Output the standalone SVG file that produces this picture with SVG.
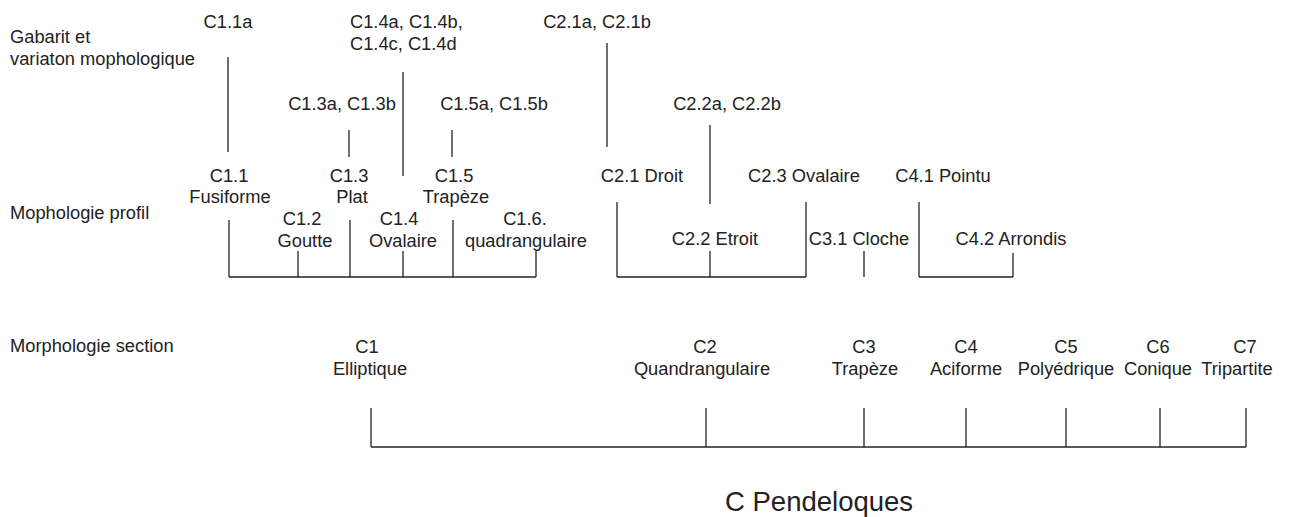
<svg xmlns="http://www.w3.org/2000/svg" width="1296" height="517" viewBox="0 0 1296 517">
<style>
text{font-family:"Liberation Sans",Arial,sans-serif;font-size:18.3px;fill:#222}
.m{text-anchor:middle}
.t{font-size:27.5px}
.c line{stroke:#222;stroke-width:1.3;fill:none}
</style>
<rect width="1296" height="517" fill="#fff"/>
<g id="row-labels">
<text x="10" y="43">Gabarit et</text>
<text x="10" y="65">variaton mophologique</text>
<text x="10" y="219">Mophologie profil</text>
<text x="10" y="352">Morphologie section</text>
</g>
<g id="n-C1.1a"><text class="m" x="228" y="28">C1.1a</text></g>
<g id="n-C1.4abcd"><text x="350" y="28">C1.4a, C1.4b,</text><text x="350" y="50">C1.4c, C1.4d</text></g>
<g id="n-C2.1ab"><text class="m" x="597" y="28">C2.1a, C2.1b</text></g>
<g id="n-C1.3ab"><text class="m" x="342" y="110">C1.3a, C1.3b</text></g>
<g id="n-C1.5ab"><text class="m" x="494" y="110">C1.5a, C1.5b</text></g>
<g id="n-C2.2ab"><text class="m" x="727" y="110">C2.2a, C2.2b</text></g>
<g id="n-C1.1"><text class="m" x="229" y="182">C1.1</text><text class="m" x="230" y="203">Fusiforme</text></g>
<g id="n-C1.3"><text class="m" x="349" y="182">C1.3</text><text class="m" x="352" y="203">Plat</text></g>
<g id="n-C1.5"><text class="m" x="454" y="182">C1.5</text><text class="m" x="456" y="203">Trapèze</text></g>
<g id="n-C1.2"><text class="m" x="302" y="225">C1.2</text><text class="m" x="305" y="247">Goutte</text></g>
<g id="n-C1.4"><text class="m" x="399" y="225">C1.4</text><text class="m" x="403" y="247">Ovalaire</text></g>
<g id="n-C1.6"><text class="m" x="525" y="225">C1.6.</text><text class="m" x="526" y="247">quadrangulaire</text></g>
<g id="n-C2.1"><text class="m" x="642" y="182">C2.1 Droit</text></g>
<g id="n-C2.3"><text class="m" x="804" y="182">C2.3 Ovalaire</text></g>
<g id="n-C4.1"><text class="m" x="943" y="182">C4.1 Pointu</text></g>
<g id="n-C2.2"><text class="m" x="715" y="245">C2.2 Etroit</text></g>
<g id="n-C3.1"><text class="m" x="859" y="245">C3.1 Cloche</text></g>
<g id="n-C4.2"><text class="m" x="1011" y="245">C4.2 Arrondis</text></g>
<g id="n-C1"><text class="m" x="367" y="353">C1</text><text class="m" x="370" y="375">Elliptique</text></g>
<g id="n-C2"><text class="m" x="705" y="353">C2</text><text class="m" x="702" y="375">Quandrangulaire</text></g>
<g id="n-C3"><text class="m" x="864" y="353">C3</text><text class="m" x="865" y="375">Trapèze</text></g>
<g id="n-C4"><text class="m" x="966" y="353">C4</text><text class="m" x="966" y="375">Aciforme</text></g>
<g id="n-C5"><text class="m" x="1066" y="353">C5</text><text class="m" x="1066" y="375">Polyédrique</text></g>
<g id="n-C6"><text class="m" x="1158" y="353">C6</text><text class="m" x="1158" y="375">Conique</text></g>
<g id="n-C7"><text class="m" x="1245" y="353">C7</text><text class="m" x="1237" y="375">Tripartite</text></g>
<g id="n-C"><text class="t" x="725" y="511">C Pendeloques</text></g>
<g id="connectors" class="c">
<line x1="228" y1="57" x2="228" y2="152"/>
<line x1="349" y1="130" x2="349" y2="157"/>
<line x1="403" y1="72" x2="403" y2="176"/>
<line x1="452" y1="130" x2="452" y2="157"/>
<line x1="607" y1="43" x2="607" y2="147"/>
<line x1="710" y1="125" x2="710" y2="204"/>
<line x1="229" y1="277" x2="536" y2="277"/>
<line x1="229" y1="220" x2="229" y2="277"/>
<line x1="298" y1="251" x2="298" y2="277"/>
<line x1="350" y1="220" x2="350" y2="277"/>
<line x1="403" y1="251" x2="403" y2="277"/>
<line x1="453" y1="220" x2="453" y2="277"/>
<line x1="536" y1="251" x2="536" y2="277"/>
<line x1="617" y1="277" x2="806" y2="277"/>
<line x1="617" y1="202" x2="617" y2="277"/>
<line x1="710" y1="251" x2="710" y2="277"/>
<line x1="806" y1="202" x2="806" y2="277"/>
<line x1="864" y1="251" x2="864" y2="277"/>
<line x1="919" y1="277" x2="1013" y2="277"/>
<line x1="919" y1="202" x2="919" y2="277"/>
<line x1="1013" y1="253" x2="1013" y2="277"/>
<line x1="371" y1="447" x2="1246" y2="447"/>
<line x1="371" y1="408" x2="371" y2="447"/>
<line x1="706" y1="408" x2="706" y2="447"/>
<line x1="864" y1="408" x2="864" y2="447"/>
<line x1="966" y1="408" x2="966" y2="447"/>
<line x1="1066" y1="408" x2="1066" y2="447"/>
<line x1="1160" y1="408" x2="1160" y2="447"/>
<line x1="1246" y1="408" x2="1246" y2="447"/>
</g>
</svg>
